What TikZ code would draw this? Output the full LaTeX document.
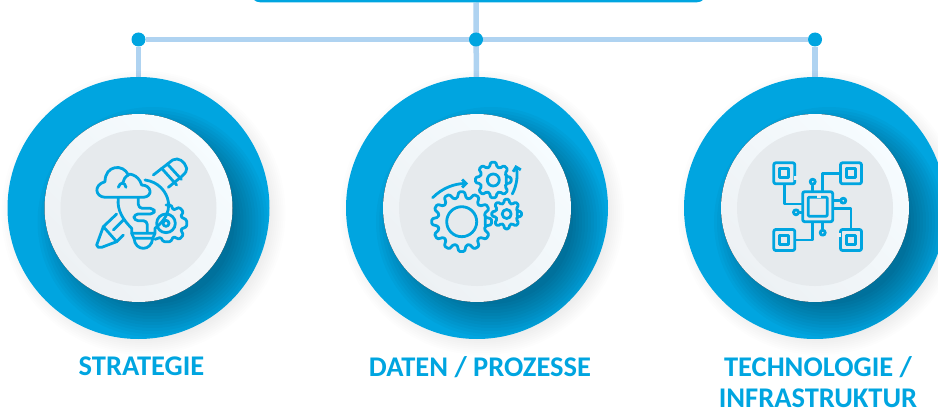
\documentclass[tikz,border=0pt]{standalone}
\usepackage{fontspec}
\setmainfont{Carlito}
\usepackage{tikz}
\usetikzlibrary{positioning, backgrounds, arrows.meta}
\definecolor{plava}{HTML}{00A5E0}
\definecolor{svijetla}{HTML}{AFD3F1}
\definecolor{siva}{HTML}{EAEEF1}
\definecolor{sivaa}{HTML}{E6EAED}
\definecolor{sivab}{HTML}{EDF1F4}
\definecolor{bijela}{HTML}{F6FCFF}
\tikzset{
    veza/.style={line width=5.5pt, svijetla},
    cvor/.style={circle, fill=plava, minimum size=14pt, inner sep=0pt},
    prsten/.style={circle, fill=plava, minimum size=262pt, inner sep=0pt},
    natpis/.style={text=plava, inner sep=0pt, font=\bfseries\fontsize{28.5}{31}\selectfont, align=center},
    ikona/.style={draw=plava, line width=2.8pt, line join=round, line cap=round},
    cip/.style={ikona, rounded corners=2pt, minimum size=21pt, inner sep=0pt},
    cipman/.style={ikona, minimum size=9pt, inner sep=0pt},
    pin/.style={ikona, circle, minimum size=5pt, inner sep=0pt},
    luka/.style={draw=siva, line width=4pt}
}
% gear: x, y, outer r, root r, teeth
\newcommand{\kolo}[5]{
    \pgfmathsetmacro{\korak}{360/#5}
    \draw[ikona, shift={(#1, #2)}, rounded corners=1.2pt]
        ({-.36*\korak}:#4) \foreach \z in {0,...,#5} {
            -- ({(\z-.36)*\korak}:#4) -- ({(\z-.18)*\korak}:#3)
            -- ({(\z+.18)*\korak}:#3) -- ({(\z+.36)*\korak}:#4)
        } -- cycle;
}
% soft shadow outside the ring: x, y
\newcommand{\sjena}[2]{
    \foreach \r in {126,128,...,142} {
        \fill[black, opacity=.007] (#1+5, #2+5) circle (\r);
    }
}
% disc with shadow: x, y
\newcommand{\disk}[2]{
    \begin{scope}
        \clip (#1, #2) circle (131);
        \foreach \r in {82,85,...,115} {
            \fill[black, opacity=.026] (#1+14, #2+14) circle (\r);
        }
    \end{scope}
    \fill[left color=bijela, right color=sivab, shading angle=-45] (#1, #2) circle (94);
    \fill[sivaa] (#1, #2) circle (78);
    \begin{scope}
        \clip (#1, #2) circle (78);
        \foreach \r in {70,74,...,94} {
            \fill[white, opacity=.035] (#1+16, #2+16) circle (\r);
        }
    \end{scope}
}

\begin{document}
\begin{tikzpicture}[x=1pt, y=-1pt]
    \path[use as bounding box] (0, 0) rectangle (938, 412);
    \clip (0, 0) rectangle (938, 412);

    %gornja traka
    \node[fill=plava, rounded corners=9pt, minimum width=455pt, minimum height=24pt,
        inner sep=0pt, anchor=south] (traka) at (478.5, 2.5) {};

    %prsteni
    \sjena{138.5}{208}
    \sjena{477}{208}
    \sjena{815}{208}
    \node[prsten] (strategija) at (138.5, 208) {};
    \node[prsten] (podaci) at (477, 208) {};
    \node[prsten] (tehnologija) at (815, 208) {};
    \disk{138.5}{208}
    \disk{477}{208}
    \disk{815}{208}

    %cvorovi
    \node[cvor] (cvora) at (138.5, 39.5) {};
    \node[cvor] (cvorb) at (476, 39.5) {};
    \node[cvor] (cvorc) at (815, 39.5) {};

    %veze
    \begin{scope}[on background layer]
        \draw[veza] (cvora) -- (cvorc);
        \draw[veza] (cvora) -- (strategija);
        \draw[veza] (traka.south -| cvorb) -- (podaci);
        \draw[veza] (cvorc) -- (tehnologija);
    \end{scope}

    %natpisi
    \node[natpis, below=17.5pt of strategija, xshift=3pt] (natpisa) {STRATEGIE};
    \node[natpis, below=17.5pt of podaci, xshift=3pt] (natpisb) {DATEN / PROZESSE};
    \node[natpis, below=17.5pt of tehnologija, xshift=3pt] (natpisc) {TECHNOLOGIE /\\INFRASTRUKTUR};

    %ikona lijevo
    \begin{scope}[shift={(60, 130)}, scale=1/3]
        % zupcanik
        \draw[ikona, rounded corners=1.2pt] (318, 225) -- (333, 225) -- (340, 240) -- (358, 232)
            -- (370, 245) -- (362, 260) -- (380, 270) -- (380, 290) -- (362, 298) -- (370, 315)
            -- (358, 328) -- (340, 320) -- (332, 335) -- (310, 335) -- (302, 322) -- (285, 328);
        \draw[ikona] (318, 280) circle (28);
        \draw[ikona] (318, 280) circle (9);
        % olovka
        \draw[ikona] (280, 135) -- (338, 90) .. controls (355, 80) and (375, 95) .. (380, 115)
            .. controls (380, 130) and (370, 135) .. (325, 172);
        \draw[ikona] (305, 115) -- (350, 165);
        \draw[ikona] (322, 102) -- (364, 148);
        \draw[ikona] (170, 252) -- (130, 290) -- (110, 345) .. controls (110, 352) and (118, 354) .. (125, 352)
            -- (170, 335) -- (190, 315);
        \draw[ikona] (130, 290) -- (170, 335);
        \draw[ikona] (160, 300) -- (190, 270);
        % zarulja
        \draw[ikona] (175, 205) .. controls (170, 240) and (190, 270) .. (215, 295) -- (215, 310)
            -- (285, 310) -- (285, 295) .. controls (310, 275) and (330, 250) .. (325, 215)
            .. controls (320, 185) and (295, 155) .. (255, 150);
        \draw[ikona] (215, 310) -- (222, 325) -- (278, 325) -- (285, 310);
        \draw[ikona] (222, 325) .. controls (225, 365) and (275, 365) .. (278, 325);
        \draw[ikona, rounded corners=4pt] (235, 205) -- (235, 235) -- (283, 235) -- (283, 252)
            -- (222, 252) -- (222, 272) -- (262, 272) -- (262, 305);
        % oblak
        \draw[ikona] (135, 202) -- (250, 202) .. controls (280, 200) and (275, 165) .. (245, 165)
            .. controls (235, 130) and (200, 130) .. (205, 135)
            .. controls (190, 100) and (135, 105) .. (135, 155)
            .. controls (100, 165) and (105, 200) .. (135, 202);
        \draw[ikona] (175, 172) .. controls (180, 155) and (195, 155) .. (198, 172);
        \draw[ikona] (205, 135) .. controls (195, 140) and (190, 150) .. (188, 160);
    \end{scope}

    %ikona sredina
    \kolo{461.7}{221.7}{30}{24}{12}
    \kolo{493.3}{180}{18}{13.5}{8}
    \kolo{506.7}{214}{15}{11}{8}
    \draw[ikona] (461.7, 221.7) circle (15);
    \draw[ikona] (493.3, 180) circle (6);
    \draw[ikona] (506.7, 214) circle (4.5);
    \coordinate (strelicaa) at (432.7, 197.7);
    \coordinate (strelicab) at (468, 183.5);
    \coordinate (strelicac) at (512.3, 194);
    \coordinate (strelicad) at (515.5, 165);
    \draw[ikona, -{Straight Barb[length=4pt, width=8pt]}] (strelicaa) .. controls (442, 188) and (455, 183.5) .. (strelicab);
    \draw[ikona, -{Straight Barb[length=4pt, width=8pt]}] (strelicac) .. controls (517, 185) and (518, 175) .. (strelicad);

    %ikona desno
    \node[cip, draw, minimum size=30pt] (cpu) at (817.7, 206.7) {};
    \node[cipman, draw, minimum size=19pt, rounded corners=1pt] (jezgra) at (817.7, 206.7) {};
    \node[cip] (kutaka) at (784.3, 173.3) {};
    \node[cip] (kutakb) at (851, 173.3) {};
    \node[cip] (kutakc) at (784.3, 240) {};
    \node[cip] (kutakd) at (851, 240) {};
    \node[cipman] (mana) at (784.3, 173.3) {};
    \node[cipman] (manb) at (851, 173.3) {};
    \node[cipman] (manc) at (784.3, 240) {};
    \node[cipman] (mand) at (851, 240) {};
    \node[pin] (pina) at (812.7, 181.7) {};
    \node[pin] (pinb) at (843.3, 200.7) {};
    \node[pin] (pinc) at (796, 212.3) {};
    \node[pin] (pind) at (822.7, 232.7) {};
    \draw[ikona] (kutaka.south) |- ([yshift=2.7pt]cpu.west);
    \draw[ikona] (kutakb.west) -| ([xshift=5pt]cpu.north);
    \draw[ikona] (kutakc.east) -| ([xshift=-5pt]cpu.south);
    \draw[ikona] (kutakd.north) |- ([yshift=-1.7pt]cpu.east);
    \draw[ikona] (pina.south) -- (pina.south |- cpu.north);
    \draw[ikona] (pinb.west) -- (pinb.west -| cpu.east);
    \draw[ikona] (pinc.east) -- (pinc.east -| cpu.west);
    \draw[ikona] (pind.north) -- (pind.north |- cpu.south);
    %prekidi
    \draw[luka] ([yshift=-3pt]kutaka.east) -- ([yshift=-7pt]kutaka.east);
    \draw[luka] ([yshift=3pt]kutakd.west) -- ([yshift=7pt]kutakd.west);
    \draw[luka] ([xshift=-1pt]jezgra.north) -- ([xshift=3pt]jezgra.north);
\end{tikzpicture}
\end{document}
